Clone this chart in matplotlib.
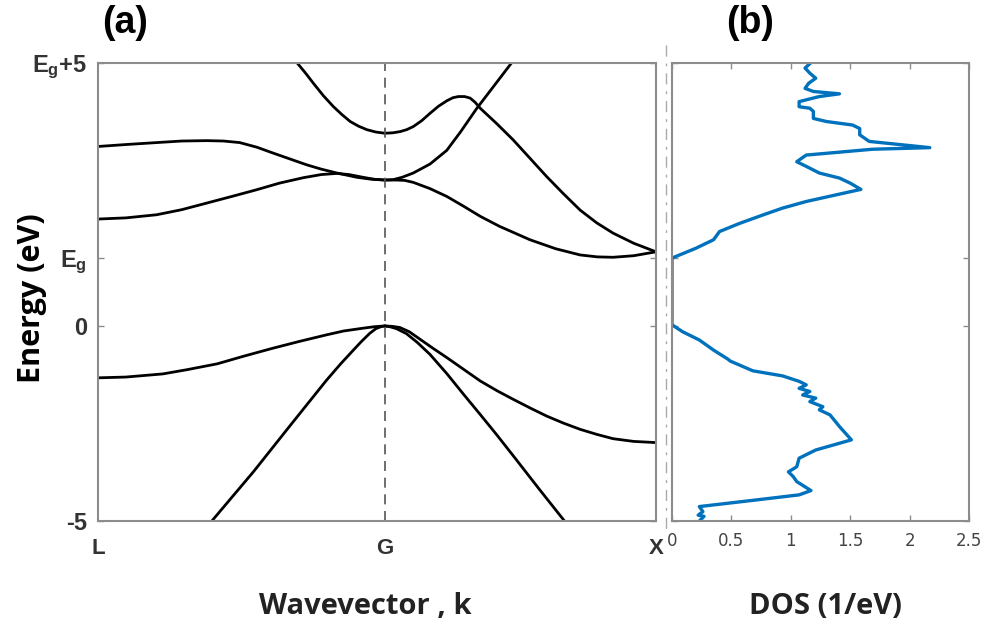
import matplotlib
matplotlib.use("Agg")
from matplotlib import pyplot as plt
from matplotlib.lines import Line2D

plt.rcParams['mathtext.fontset'] = 'custom'
plt.rcParams['mathtext.bf'] = 'Liberation Sans:bold'
plt.rcParams['mathtext.rm'] = 'Liberation Sans:bold'

Eg = 1.74

# k path: L -> G -> X (fraction of path)
k_ticks = [0.0, 0.514, 1.0]
k_labels = ['L', 'G', 'X']

# valence bands
hh_k = [0.0, 0.05, 0.116, 0.16, 0.214, 0.26, 0.311, 0.36, 0.409, 0.44, 0.474, 0.495, 0.514,
        0.527, 0.541, 0.558, 0.577, 0.600, 0.625, 0.655, 0.685, 0.715, 0.744, 0.774, 0.804,
        0.834, 0.864, 0.894, 0.923, 0.96, 1.0]
hh_E = [-1.33, -1.31, -1.23, -1.12, -0.97, -0.78, -0.58, -0.40, -0.23, -0.13, -0.06, -0.02, 0.0,
        -0.01, -0.04, -0.15, -0.34, -0.57, -0.81, -1.11, -1.41, -1.66, -1.88, -2.10, -2.31,
        -2.49, -2.65, -2.78, -2.89, -2.96, -2.99]

lhl_k = [0.204, 0.279, 0.344, 0.409, 0.435, 0.455, 0.472, 0.487, 0.498, 0.507, 0.514]
lhl_E = [-5.0, -3.73, -2.56, -1.40, -0.97, -0.66, -0.40, -0.19, -0.07, -0.02, 0.0]

lhr_k = [0.514, 0.523, 0.535, 0.553, 0.572, 0.595, 0.625, 0.655, 0.685, 0.714, 0.747, 0.79, 0.836]
lhr_E = [0.0, -0.02, -0.07, -0.20, -0.42, -0.73, -1.22, -1.75, -2.27, -2.78, -3.38, -4.17, -5.0]

# conduction bands
c1_k = [0.0, 0.05, 0.105, 0.15, 0.195, 0.24, 0.284, 0.325, 0.368, 0.40, 0.428, 0.45, 0.475,
        0.495, 0.514, 0.535, 0.55, 0.565, 0.595, 0.625, 0.655, 0.685, 0.72, 0.774, 0.82,
        0.864, 0.895, 0.923, 0.96, 1.0]
c1_E = [2.74, 2.77, 2.85, 2.98, 3.15, 3.32, 3.49, 3.66, 3.80, 3.88, 3.91, 3.88, 3.81,
        3.76, 3.74, 3.74, 3.73, 3.68, 3.52, 3.32, 3.07, 2.81, 2.55, 2.21, 1.98,
        1.82, 1.77, 1.76, 1.80, 1.90]

c2_k = [0.0, 0.05, 0.105, 0.15, 0.195, 0.225, 0.254, 0.285, 0.314, 0.344, 0.374, 0.40, 0.428,
        0.464, 0.49, 0.514, 0.529, 0.545, 0.565, 0.595, 0.625, 0.65, 0.679, 0.71, 0.741]
c2_E = [4.60, 4.65, 4.70, 4.74, 4.75, 4.74, 4.70, 4.58, 4.43, 4.28, 4.13, 4.02, 3.92,
        3.81, 3.76, 3.74, 3.75, 3.81, 3.92, 4.15, 4.50, 4.98, 5.58, 6.16, 6.74]

c3_k = [0.357, 0.372, 0.386, 0.404, 0.422, 0.437, 0.452, 0.467, 0.482, 0.498, 0.514, 0.528,
        0.541, 0.553, 0.565, 0.58, 0.595, 0.61, 0.625, 0.636, 0.646, 0.657, 0.667, 0.676,
        0.685, 0.715, 0.744, 0.774, 0.804, 0.834, 0.864, 0.894, 0.923, 0.96, 1.0]
c3_E = [6.74, 6.48, 6.22, 5.90, 5.62, 5.42, 5.24, 5.12, 5.03, 4.97, 4.94, 4.95,
        4.98, 5.03, 5.11, 5.26, 5.45, 5.63, 5.77, 5.85, 5.88, 5.88, 5.84, 5.73,
        5.58, 5.18, 4.77, 4.30, 3.83, 3.39, 2.97, 2.64, 2.38, 2.12, 1.90]

# density of states (1/eV) vs energy
dos_E = [6.75, 6.61, 6.48, 6.35, 6.22, 6.09, 6.01, 5.95, 5.88, 5.75, 5.62, 5.58, 5.50, 5.32, 5.24, 5.15,
         5.06, 4.90, 4.73, 4.57, 4.53, 4.38, 4.21, 4.09, 3.92, 3.79, 3.66, 3.50, 3.42, 3.19, 3.02, 2.85,
         2.63, 2.42, 2.21, 1.99, 1.74, 0.03, -0.15, -0.36, -0.62, -0.85, -0.90, -1.15, -1.28, -1.42,
         -1.51, -1.60, -1.68, -1.77, -1.85, -1.94, -2.07, -2.15, -2.28, -2.58, -2.92, -3.18, -3.39,
         -3.61, -3.74, -3.86, -3.99, -4.22, -4.33, -4.46, -4.63, -4.76, -4.85, -4.88, -5.0]
dos_v = [1.17, 1.12, 1.16, 1.21, 1.15, 1.12, 1.19, 1.41, 1.24, 1.07, 1.07, 1.16, 1.19, 1.19, 1.30, 1.52,
         1.58, 1.58, 1.66, 2.17, 1.69, 1.13, 1.05, 1.13, 1.24, 1.41, 1.50, 1.59, 1.47, 1.13, 0.93, 0.77,
         0.57, 0.40, 0.35, 0.20, 0.0, 0.0, 0.09, 0.23, 0.35, 0.47, 0.49, 0.68, 0.93, 1.07,
         1.13, 1.07, 1.16, 1.10, 1.21, 1.16, 1.27, 1.24, 1.33, 1.41, 1.51, 1.21, 1.07,
         1.05, 0.98, 1.02, 1.05, 1.17, 1.07, 0.71, 0.23, 0.26, 0.22, 0.27, 0.23]

dos_ticks = [0, 0.5, 1, 1.5, 2, 2.5]
dos_labels = ['0', '0.5', '1', '1.5', '2', '2.5']
e_ticks = [-5, 0, Eg, Eg + 5]
e_labels = ['-5', '0', r'$\mathbf{E_g}$', r'$\mathbf{E_g}$+5']

spine_col = '#8c8c8c'

fig = plt.figure(figsize=(9.84, 6.34), dpi=100)
ax1 = fig.add_axes([98/984, 113/634, 558/984, 458/634])
ax2 = fig.add_axes([672/984, 113/634, 297/984, 458/634])

for k, E in [(hh_k, hh_E), (lhl_k, lhl_E), (lhr_k, lhr_E), (c1_k, c1_E), (c2_k, c2_E), (c3_k, c3_E)]:
    ax1.plot(k, E, color='black', lw=2.0, solid_capstyle='round', solid_joinstyle='round')
ax1.axvline(k_ticks[1], color='#555555', lw=1.2, dashes=(6, 4))
ax1.set_xlim(0, 1)
ax1.set_ylim(-5, Eg + 5)
ax1.set_xticks(k_ticks)
ax1.set_xticklabels(k_labels)
ax1.set_yticks(e_ticks)
ax1.set_yticklabels(e_labels)
ax1.tick_params(axis='x', length=0, pad=12, labelsize=16, colors='#333333')
ax1.tick_params(axis='y', direction='in', length=4, width=1, color=spine_col, right=True,
                labelsize=17, pad=8, labelcolor='#333333')
for lab in ax1.get_xticklabels() + ax1.get_yticklabels():
    lab.set_fontfamily('Liberation Sans')
    lab.set_fontweight('bold')

ax2.plot(dos_v, dos_E, color='#0072BD', lw=2.4, solid_joinstyle='round')
ax2.set_xlim(0, 2.5)
ax2.set_ylim(-5, Eg + 5)
ax2.set_xticks(dos_ticks)
ax2.set_xticklabels(dos_labels)
ax2.set_yticks(e_ticks)
ax2.set_yticklabels([])
ax2.tick_params(axis='x', direction='in', length=4, width=1, color=spine_col, top=True,
                labelsize=12, pad=8, labelcolor='#444444')
ax2.tick_params(axis='y', direction='in', length=4, width=1, color=spine_col, right=True)
for lab in ax2.get_xticklabels():
    lab.set_fontfamily(['Liberation Sans Narrow', 'DejaVu Sans'])

for ax in (ax1, ax2):
    for s in ax.spines.values():
        s.set_color(spine_col)
        s.set_linewidth(1.5)

# separator between the panels
fig.add_artist(Line2D([666/984, 666/984], [1 - 45/634, 1 - 530/634], color='#aaaaaa',
                      lw=1.0, dashes=(8, 5, 2, 5)))

fig.text(125/984, 1 - 23/634, '(a)', ha='center', va='center', fontsize=27,
         fontweight='bold', family='Liberation Sans')
fig.text(750/984, 1 - 23/634, '(b)', ha='center', va='center', fontsize=27,
         fontweight='bold', family='Liberation Sans')
fig.text(32/984, 1 - 298/634, 'Energy (eV)', rotation=90, ha='center', va='center',
         fontsize=22, fontweight='bold', family='Open Sans')
fig.text(365/984, 1 - 607/634, 'Wavevector , k', ha='center', va='center',
         fontsize=21, fontweight='bold', family='Open Sans', color='#222222')
fig.text(825/984, 1 - 607/634, 'DOS (1/eV)', ha='center', va='center',
         fontsize=21, fontweight='bold', family='Open Sans', color='#222222')

fig.savefig('out.png', dpi=100)
